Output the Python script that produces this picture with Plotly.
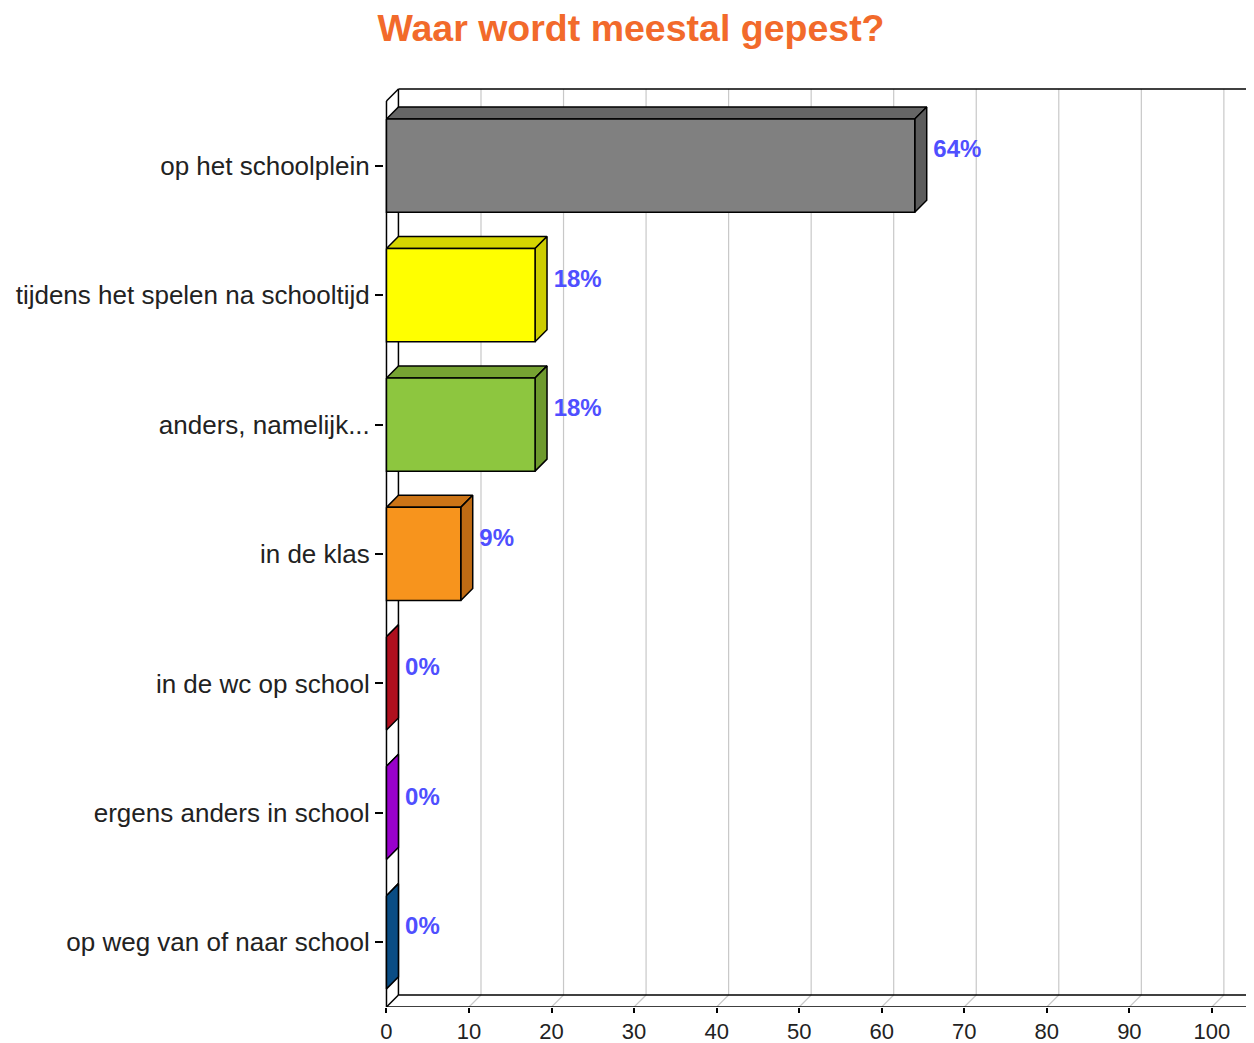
import plotly.graph_objects as go

# ---- data ----
categories = ["op het schoolplein", "tijdens het spelen na schooltijd", "anders, namelijk...",
              "in de klas", "in de wc op school", "ergens anders in school", "op weg van of naar school"]
values = [64, 18, 18, 9, 0, 0, 0]
value_labels = ["64%", "18%", "18%", "9%", "0%", "0%", "0%"]
x_ticks = [0, 10, 20, 30, 40, 50, 60, 70, 80, 90, 100]

# ---- styling ----
front_colors = ["#808080", "#ffff00", "#8dc63f", "#f7941d", "#b0101e", "#9900cc", "#0a4d85"]
side_colors = ["#5c5c5c", "#cccc00", "#6e9a2e", "#bf6b14", "#8a0c18", "#7a00a3", "#083c68"]
top_colors = ["#666666", "#d6d600", "#76a332", "#cc7416", "#960d1a", "#8400b0", "#094372"]

DX = 1.45      # depth offset in x units
DY = 0.093     # depth offset in category units
BW = 0.72      # bar thickness
XMAX = 105.1
Y_BOT = len(categories) - 0.5
Y_TOP = -0.5

fig = go.Figure()

def line(xs, ys, color, width):
    fig.add_trace(go.Scatter(x=xs, y=ys, mode="lines", line=dict(color=color, width=width),
                             hoverinfo="skip", showlegend=False))

# back-wall gridlines and floor diagonals
for v in x_ticks[1:]:
    line([v + DX, v + DX], [Y_BOT - DY, Y_TOP - DY], "#c8c8c8", 1.2)
    line([v, v + DX], [Y_BOT, Y_BOT - DY], "#c8c8c8", 1.2)

# frame
line([DX, DX], [Y_TOP - DY, Y_BOT - DY], "#000000", 1.5)
line([DX, XMAX], [Y_TOP - DY, Y_TOP - DY], "#000000", 1.5)
line([DX, XMAX], [Y_BOT - DY, Y_BOT - DY], "#000000", 1.5)
line([0, DX], [Y_TOP, Y_TOP - DY], "#000000", 1.5)
line([0, DX], [Y_BOT, Y_BOT - DY], "#000000", 1.5)
line([0, 0], [Y_TOP, Y_BOT], "#000000", 1.5)
line([0, XMAX], [Y_BOT, Y_BOT], "#000000", 1.5)

def poly(xs, ys, fill):
    fig.add_trace(go.Scatter(x=xs + [xs[0]], y=ys + [ys[0]], mode="lines", fill="toself",
                             fillcolor=fill, line=dict(color="#000000", width=1.5),
                             hoverinfo="skip", showlegend=False))

for i, v in enumerate(values):
    t, b = i - BW / 2, i + BW / 2
    # top face
    poly([0, v, v + DX, DX], [t, t, t - DY, t - DY], top_colors[i])
    # side face
    poly([v, v + DX, v + DX, v], [t, t - DY, b - DY, b], side_colors[i] if v > 0 else front_colors[i])
    # front face
    if v > 0:
        poly([0, v, v, 0], [t, t, b, b], front_colors[i])

# value labels
fig.add_trace(go.Scatter(
    x=[v + DX + 0.8 for v in values], y=[i - 0.11 for i in range(len(values))],
    mode="text", text=value_labels, textposition="middle right",
    textfont=dict(family="Liberation Sans, Arial, sans-serif", size=24, color="#4f4fff", weight="bold"),
    hoverinfo="skip", showlegend=False))

fig.update_layout(
    width=1246, height=1035,
    margin=dict(l=376, r=0, t=80, b=36),
    paper_bgcolor="#ffffff", plot_bgcolor="#ffffff",
    title=dict(text="<b>Waar wordt meestal gepest?</b>", x=0.5, xanchor="center", y=0.9807, yanchor="middle",
               font=dict(family="Liberation Sans, Arial, sans-serif", size=37.5, color="#f26a2b")),
    xaxis=dict(range=[-0.3, XMAX], tickvals=x_ticks, ticktext=[str(t) for t in x_ticks],
               showgrid=False, zeroline=False, showline=False, automargin=False,
               ticks="outside", ticklen=5, tickwidth=1.5, tickcolor="#000000",
               tickfont=dict(family="Liberation Sans, Arial, sans-serif", size=22, color="#222222")),
    yaxis=dict(range=[Y_BOT, -0.6], tickvals=list(range(len(categories))), ticktext=categories,
               showgrid=False, zeroline=False, showline=False, automargin=False,
               ticks="outside", ticklen=8, tickwidth=1.5, tickcolor="#000000",
               tickfont=dict(family="Liberation Sans, Arial, sans-serif", size=26, color="#222222")),
)

fig.write_html("out.html")
